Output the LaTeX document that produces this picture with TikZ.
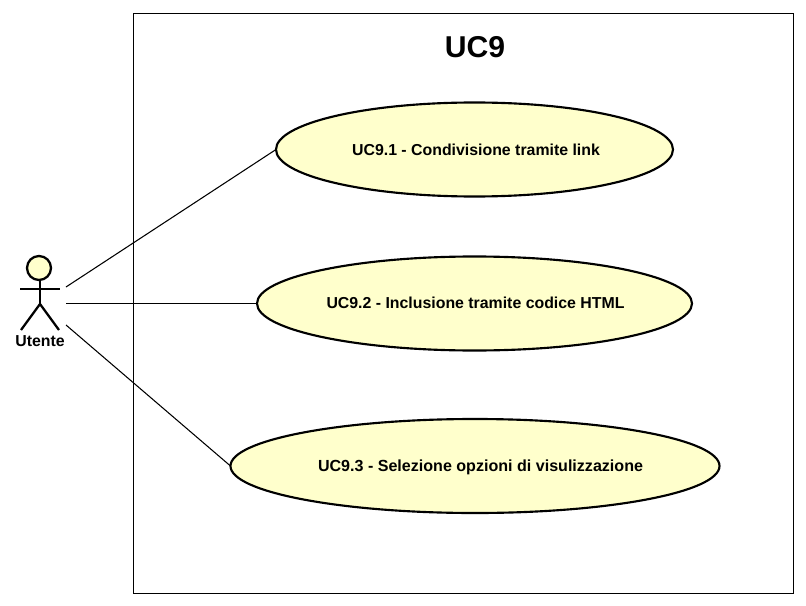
\documentclass[tikz,border=0pt]{standalone}
\usepackage{fontspec}
\setmainfont{Liberation Sans}
\usetikzlibrary{shapes.geometric}
\definecolor{ucfill}{HTML}{FFFFCC}
\tikzset{
 x=0.75pt,y=-0.75pt,
 ucase/.style={ellipse,draw=black,fill=ucfill,line width=1.6pt,inner sep=0pt,outer sep=0pt},
 uctext/.style={font=\fontsize{11.9pt}{13pt}\selectfont\bfseries,text height=8.5pt,text depth=2.5pt,inner sep=0pt},
 conn/.style={draw=black,line width=0.8pt},
 actorline/.style={draw=black,line width=1.7pt},
}
\begin{document}
\begin{tikzpicture}
\useasboundingbox (0,0) rectangle (806,606);
\fill[white] (0,0) rectangle (806,606);
\node[draw=black,line width=0.75pt,minimum width=0.75pt*660,minimum height=0.75pt*580,inner sep=0pt,outer sep=0pt,anchor=north west] (sys) at (133.5,13.5) {};
\node[font=\fontsize{22.6pt}{26pt}\selectfont\bfseries] (title) at (475,47) {UC9};
\node[ucase,minimum width=0.75pt*397,minimum height=0.75pt*94] (u1) at (474.5,149.5) {};
\node[uctext] (t1) at (476,151.5) {UC9.1 - Condivisione tramite link};
\node[ucase,minimum width=0.75pt*435,minimum height=0.75pt*94] (u2) at (474.5,303.5) {};
\node[uctext] (t2) at (475.5,304.5) {UC9.2 - Inclusione tramite codice HTML};
\node[ucase,minimum width=0.75pt*489,minimum height=0.75pt*94] (u3) at (475,466) {};
\node[uctext,font=\fontsize{12.05pt}{13pt}\selectfont\bfseries] (t3) at (480.5,467.5) {UC9.3 - Selezione opzioni di visulizzazione};
\node[circle,draw=black,fill=ucfill,line width=1.7pt,minimum size=0.75pt*24,inner sep=0pt,outer sep=0pt] (head) at (39,268) {};
\coordinate (neck) at (40,280);
\coordinate (hip) at (40,304);
\coordinate (armL) at (20,289);
\coordinate (armR) at (60,289);
\coordinate (legL) at (21,330);
\coordinate (legR) at (59,330);
\draw[actorline] (neck) -- (hip);
\draw[actorline] (armL) -- (armR);
\draw[actorline] (legL) -- (hip) -- (legR);
\node[font=\fontsize{11.9pt}{14pt}\selectfont\bfseries,inner sep=0pt] (lab) at (40,341.5) {Utente};
\coordinate (a1) at (66,287);
\coordinate (a2) at (66,303.5);
\coordinate (a3) at (66,325);
\draw[conn] (a1) -- (u1.west);
\draw[conn] (a2) -- (u2.west);
\draw[conn] (a3) -- (u3.west);
\end{tikzpicture}
\end{document}
